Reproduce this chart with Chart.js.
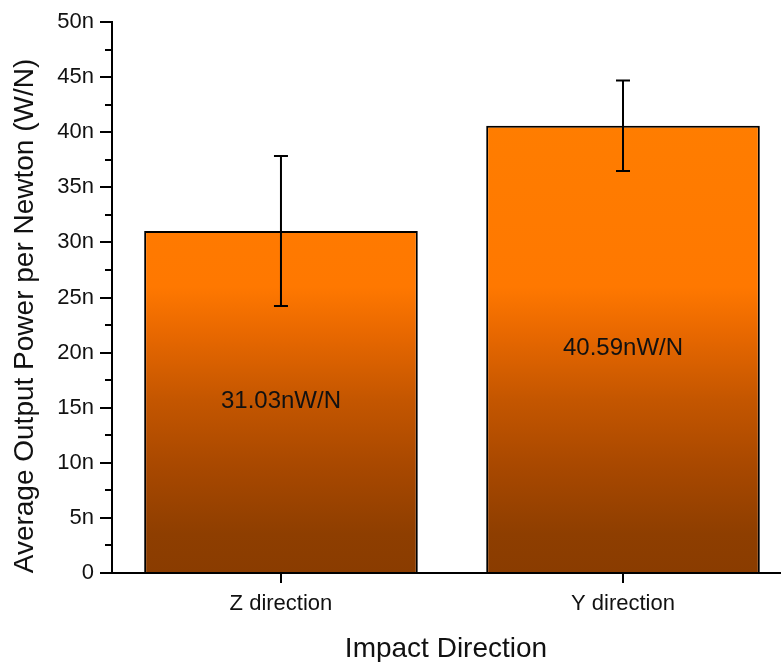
<!DOCTYPE html>
<html>
<head>
<meta charset="utf-8">
<script src="https://cdn.jsdelivr.net/npm/chart.js@4/dist/chart.umd.min.js"></script>
<style>
  body { margin: 0; background: #fff; }
  #wrap { width: 782px; height: 662px; }
</style>
</head>
<body>
<div id="wrap"><canvas id="powerChart"></canvas></div>
<script>
// data
const categories = ['Z direction', 'Y direction'];
const meanPower = [31.03, 40.59];       // nW/N
const errPower = [6.8, 4.1];            // nW/N (+/-)
const barLabels = ['31.03nW/N', '40.59nW/N'];
const yTitle = 'Average Output Power per Newton (W/N)';
const yTickStep = 5;
const yMinorStep = 2.5;

const FONT = '"Liberation Sans", Arial, sans-serif';

// orange to brown fade, fixed to the plot area
function barFill(context) {
    const area = context.chart.chartArea;
    if (!area) return '#ff8000';
    const g = context.chart.ctx.createLinearGradient(0, area.top, 0, area.bottom);
    g.addColorStop(0, '#ff8000');
    g.addColorStop(0.48, '#ff7800');
    g.addColorStop(0.565, '#e86800');
    g.addColorStop(0.686, '#c45600');
    g.addColorStop(0.808, '#a84800');
    g.addColorStop(0.93, '#8e3e00');
    g.addColorStop(1, '#8a3c00');
    return g;
}

// minor ticks, error bars, value labels and the y title
const extras = {
    id: 'extras',
    afterDatasetsDraw(chart) {
        const ctx = chart.ctx;
        const y = chart.scales.y;
        const meta = chart.getDatasetMeta(0);

        ctx.save();
        ctx.strokeStyle = '#000';
        ctx.lineWidth = 2;

        // minor ticks on y axis
        for (let v = yMinorStep; v < y.max; v += yTickStep) {
            const py = Math.round(y.getPixelForValue(v));
            ctx.beginPath();
            ctx.moveTo(y.right - 7, py);
            ctx.lineTo(y.right, py);
            ctx.stroke();
        }

        // error bars
        meta.data.forEach((bar, i) => {
            const top = y.getPixelForValue(meanPower[i] + errPower[i]);
            const bot = y.getPixelForValue(meanPower[i] - errPower[i]);
            ctx.beginPath();
            ctx.moveTo(bar.x, top);
            ctx.lineTo(bar.x, bot);
            ctx.moveTo(bar.x - 7, top);
            ctx.lineTo(bar.x + 7, top);
            ctx.moveTo(bar.x - 7, bot);
            ctx.lineTo(bar.x + 7, bot);
            ctx.stroke();
        });

        ctx.fillStyle = '#111';
        ctx.textAlign = 'center';
        ctx.textBaseline = 'middle';

        // value labels in the middle of each bar
        ctx.font = '24px ' + FONT;
        meta.data.forEach((bar, i) => {
            ctx.fillText(barLabels[i], bar.x, (bar.y + bar.base) / 2);
        });

        // y title, sits a bit lower than the plot centre in the original
        ctx.font = '28px ' + FONT;
        ctx.translate(25, 316);
        ctx.rotate(-Math.PI / 2);
        ctx.fillText(yTitle, 0, 0);
        ctx.restore();
    }
};

new Chart(document.getElementById('powerChart'), {
    type: 'bar',
    data: {
        datasets: [{
            data: meanPower.map((v, i) => ({ x: i + 1, y: v })),
            backgroundColor: barFill,
            borderColor: '#000',
            borderWidth: 2,
            barPercentage: 0.8,
            categoryPercentage: 1.0
        }]
    },
    options: {
        responsive: true,
        maintainAspectRatio: false,
        animation: false,
        layout: { padding: { top: 22, right: 2, left: 0, bottom: -4 } },
        plugins: {
            legend: { display: false },
            tooltip: { enabled: false }
        },
        scales: {
            x: {
                type: 'linear',
                offset: false,
                min: 0.506,
                max: 2.459,
                afterBuildTicks: scale => {
                    scale.ticks = categories.map((c, i) => ({ value: i + 1 }));
                },
                afterFit: scale => { scale.height = 93; },
                ticks: {
                    callback: (v, i) => categories[i],
                    color: '#111',
                    font: { family: FONT, size: 22 },
                    padding: 8,
                    maxRotation: 0
                },
                grid: {
                    offset: false,
                    drawOnChartArea: false,
                    color: '#000',
                    lineWidth: 2,
                    tickLength: 10
                },
                border: { color: '#000', width: 2 },
                title: {
                    display: true,
                    text: 'Impact Direction',
                    color: '#111',
                    font: { family: FONT, size: 28 },
                    padding: { top: 10, bottom: 0 }
                }
            },
            y: {
                min: 0,
                max: 50,
                afterFit: scale => { scale.width = 112; },
                ticks: {
                    stepSize: yTickStep,
                    callback: v => (v === 0 ? '0' : v + 'n'),
                    color: '#111',
                    font: { family: FONT, size: 22 },
                    padding: 6
                },
                grid: {
                    drawOnChartArea: false,
                    color: '#000',
                    lineWidth: 2,
                    tickLength: 12
                },
                border: { color: '#000', width: 2 }
            }
        }
    },
    plugins: [extras]
});
</script>
</body>
</html>
